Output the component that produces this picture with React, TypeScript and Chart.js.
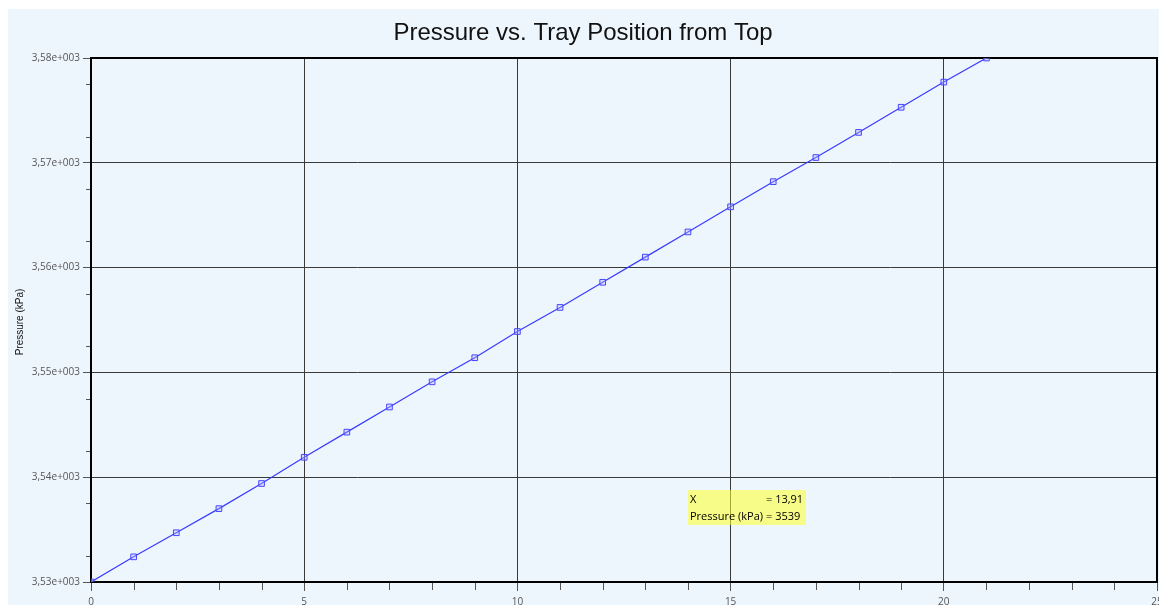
import React, { useEffect, useRef } from 'react';
import { Chart, registerables } from 'chart.js';

Chart.register(...registerables);

const trayPositions = [0, 1, 2, 3, 4, 5, 6, 7, 8, 9, 10, 11, 12, 13, 14, 15, 16, 17, 18, 19, 20, 21];
const pressures = [
  3530.0, 3532.4, 3534.7, 3537.0, 3539.4, 3541.9, 3544.3, 3546.7, 3549.1, 3551.4, 3553.9,
  3556.2, 3558.6, 3561.0, 3563.4, 3565.8, 3568.2, 3570.5, 3572.9, 3575.3, 3577.7, 3580.0,
];
const yTickValues = [3530, 3540, 3550, 3560, 3570, 3580];
const yTickLabels = ['3,53e+003', '3,54e+003', '3,55e+003', '3,56e+003', '3,57e+003', '3,58e+003'];
const yMinorTicks = [3532.5, 3537.5, 3542.5, 3547.5, 3552.5, 3557.5, 3562.5, 3567.5, 3572.5, 3577.5];
const xTickValues = [0, 5, 10, 15, 20, 25];
const xTickLabels = ['0', '5', '10', '15', '20', '25'];
const xMinorTicks = [1, 2, 3, 4, 6, 7, 8, 9, 11, 12, 13, 14, 16, 17, 18, 19, 21, 22, 23, 24];
const chartTitle = 'Pressure vs. Tray Position from Top';
const yAxisTitle = 'Pressure (kPa)';
const tooltipLabels = ['X', 'Pressure (kPa)'];
const tooltipValues = ['= 13,91', '= 3539'];

export default function App() {
  const ref = useRef<HTMLCanvasElement | null>(null);

  useEffect(() => {
    if (!ref.current) return;
    const decor = {
      id: 'decor',
      beforeDraw(chart: any) {
        const ctx = chart.ctx;
        ctx.save();
        ctx.fillStyle = '#ffffff';
        ctx.fillRect(0, 0, chart.width, chart.height);
        ctx.fillStyle = '#eef6fd';
        ctx.fillRect(8, 9, chart.width - 8, chart.height - 9);
        // title
        ctx.fillStyle = '#111';
        ctx.font = '24px "Liberation Sans", Arial, sans-serif';
        ctx.textAlign = 'center';
        ctx.textBaseline = 'middle';
        ctx.fillText(chartTitle, 583, 33);
        // y title
        ctx.translate(20.5, 322);
        ctx.rotate(-Math.PI / 2);
        ctx.font = '10px "Liberation Sans", Arial, sans-serif';
        ctx.fillText(yAxisTitle, 0, 0);
        ctx.restore();
      },
      beforeDatasetsDraw(chart: any) {
        const ctx = chart.ctx;
        const a = chart.chartArea;
        const xs = chart.scales.x;
        const ys = chart.scales.y;
        ctx.save();
        ctx.strokeStyle = '#555';
        ctx.lineWidth = 1;
        ctx.beginPath();
        xMinorTicks.forEach((v) => {
          const px = Math.round(xs.getPixelForValue(v)) + 0.5;
          ctx.moveTo(px, a.bottom);
          ctx.lineTo(px, a.bottom + 8);
        });
        yMinorTicks.forEach((v) => {
          const py = Math.round(ys.getPixelForValue(v)) + 0.5;
          ctx.moveTo(a.left - 5, py);
          ctx.lineTo(a.left, py);
        });
        ctx.stroke();
        ctx.strokeStyle = '#000';
        ctx.lineWidth = 2;
        ctx.strokeRect(a.left, a.top, a.right - a.left, a.bottom - a.top);
        ctx.restore();
      },
      afterDraw(chart: any) {
        const ctx = chart.ctx;
        ctx.save();
        ctx.fillStyle = 'rgba(255,255,40,0.55)';
        ctx.fillRect(688, 490, 118, 35);
        ctx.fillStyle = '#000';
        ctx.font = '11px "Open Sans", sans-serif';
        ctx.textBaseline = 'middle';
        ctx.textAlign = 'left';
        tooltipLabels.forEach((l, i) => {
          ctx.fillText(l, 690, 500 + i * 16.5);
          ctx.fillText(tooltipValues[i], 766, 500 + i * 16.5);
        });
        ctx.restore();
      },
    };

    const chart = new Chart(ref.current, {
      type: 'line',
      data: {
        datasets: [
          {
            data: trayPositions.map((x, i) => ({ x, y: pressures[i] })),
            borderColor: '#3a3aff',
            borderWidth: 1.2,
            tension: 0,
            fill: false,
            pointStyle: 'rect',
            pointRadius: 4,
            pointBorderWidth: 1,
            pointBorderColor: '#4646ff',
            pointBackgroundColor: 'rgba(180,180,255,0.35)',
          },
        ],
      },
      options: {
        animation: false,
        responsive: false,
        layout: { autoPadding: false, padding: { top: 58, right: 2, left: 0, bottom: 0 } },
        plugins: {
          legend: { display: false },
          title: { display: false },
          tooltip: { enabled: false },
        },
        scales: {
          x: {
            type: 'linear',
            min: 0,
            max: 25,
            afterBuildTicks: (s: any) => {
              s.ticks = xTickValues.map((v) => ({ value: v }));
            },
            afterFit: (s: any) => {
              s.height = 23;
              s.paddingLeft = 0;
              s.paddingRight = 0;
            },
            border: { display: false },
            grid: { color: '#3a3a3a', lineWidth: 1, tickLength: 9, tickColor: '#555' },
            ticks: {
              padding: 5,
              autoSkip: false,
              maxRotation: 0,
              color: '#555',
              font: { family: '"Open Sans", sans-serif', size: 10 },
              callback: (_v: any, i: number) => xTickLabels[i],
            },
          },
          y: {
            type: 'linear',
            min: 3530,
            max: 3580,
            afterBuildTicks: (s: any) => {
              s.ticks = yTickValues.map((v) => ({ value: v }));
            },
            afterFit: (s: any) => {
              s.width = 91;
              s.paddingTop = 0;
              s.paddingBottom = 0;
            },
            border: { display: false },
            grid: { color: '#3a3a3a', lineWidth: 1, tickLength: 8, tickColor: '#555' },
            ticks: {
              padding: 3,
              autoSkip: false,
              color: '#555',
              font: { family: '"Open Sans", sans-serif', size: 10 },
              callback: (_v: any, i: number) => yTickLabels[i],
            },
          },
        },
      },
      plugins: [decor],
    });
    return () => chart.destroy();
  }, []);

  return (
    <div style={{ position: 'fixed', left: 0, top: 0, width: 1159, height: 605 }}>
      <canvas ref={ref} width={1159} height={605} style={{ display: 'block' }} />
    </div>
  );
}
